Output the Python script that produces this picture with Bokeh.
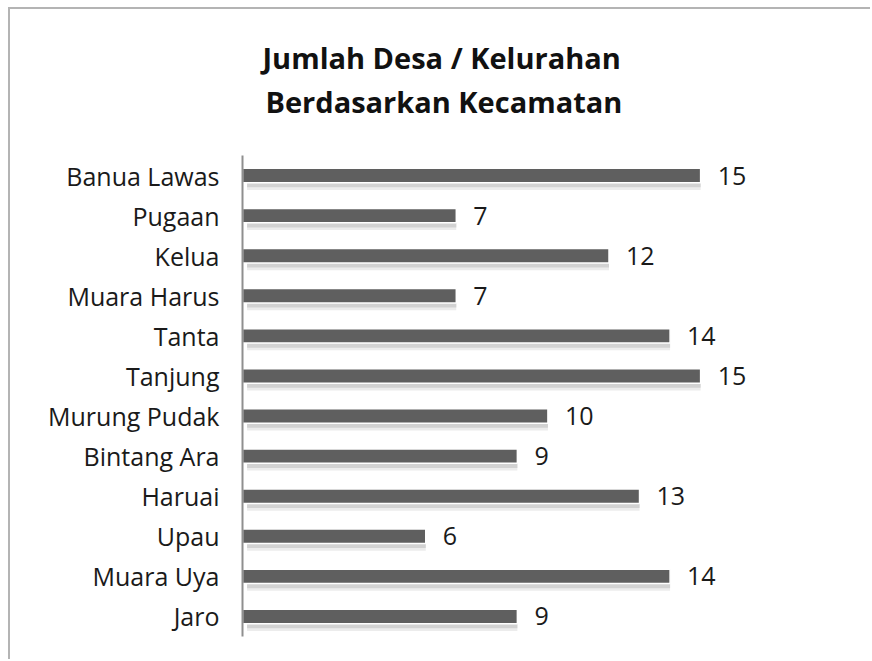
from bokeh.plotting import figure
from bokeh.models import ColumnDataSource, FactorRange, Range1d, LabelSet, Title
from bokeh.core.properties import value
from bokeh.transform import dodge
from bokeh.embed import file_html
from bokeh.resources import INLINE

kecamatan = ["Banua Lawas", "Pugaan", "Kelua", "Muara Harus", "Tanta", "Tanjung",
             "Murung Pudak", "Bintang Ara", "Haruai", "Upau", "Muara Uya", "Jaro"]
jumlah = [15, 7, 12, 7, 14, 15, 10, 9, 13, 6, 14, 9]
title_lines = ["Jumlah Desa / Kelurahan", "Berdasarkan  Kecamatan"]

W, H = 862, 652
FONT = "Open Sans"
src = ColumnDataSource(dict(k=kecamatan, v=jumlah, txt=[str(x) for x in jumlah]))

p = figure(width=W, height=H, output_backend="svg", toolbar_location=None,
           y_range=FactorRange(factors=kecamatan[::-1]), x_range=Range1d(0, 20.3),
           min_border_left=232, min_border_right=10, min_border_top=146, min_border_bottom=25)
p.styles = {"border-left": "2px solid #b4b4b4", "border-top": "2px solid #b4b4b4",
            "margin-left": "8px", "margin-top": "7px"}
p.outline_line_color = None
p.grid.visible = False
p.xaxis.visible = False
p.yaxis.major_tick_line_color = None
p.yaxis.minor_tick_line_color = None
p.yaxis.axis_line_color = "#8f8f8f"
p.yaxis.axis_line_width = 2
p.yaxis.major_label_text_font = FONT
p.yaxis.major_label_text_font_size = "25px"
p.yaxis.major_label_text_color = "#1a1a1a"
p.yaxis.major_label_standoff = 17

# soft shadow
p.hbar(y=dodge("k", -0.15, range=p.y_range), left=0.15, right="v", height=0.42,
       source=src, fill_color="#ececec", line_color=None)
p.hbar(y=dodge("k", -0.13, range=p.y_range), left=0.15, right="v", height=0.33,
       source=src, fill_color="#d2d2d2", line_color=None)
# main bar
p.hbar(y="k", left=0, right="v", height=0.36, source=src,
       fill_color="#5f5f5f", line_color="#ffffff", line_width=1.5)

labels = LabelSet(x="v", y="k", text="txt", source=src, x_offset=17,
                  text_align="left", text_baseline="middle",
                  text_font=value(FONT), text_font_size="25px", text_color="#1a1a1a")
p.add_layout(labels)

# title lines, stacked from the frame upward: spacer, line 2, line 1
spacer = Title(text=" ", text_font_size="1px", standoff=32)
t2 = Title(text=title_lines[1], align="left", offset=23, standoff=0,
           text_font=FONT, text_font_style="bold", text_font_size="29px", text_color="#111111")
t1 = Title(text=title_lines[0], align="left", offset=20, standoff=6,
           text_font=FONT, text_font_style="bold", text_font_size="29px", text_color="#111111")
p.add_layout(spacer, "above")
p.add_layout(t2, "above")
p.add_layout(t1, "above")

open("out.html", "w").write(file_html(p, INLINE))
